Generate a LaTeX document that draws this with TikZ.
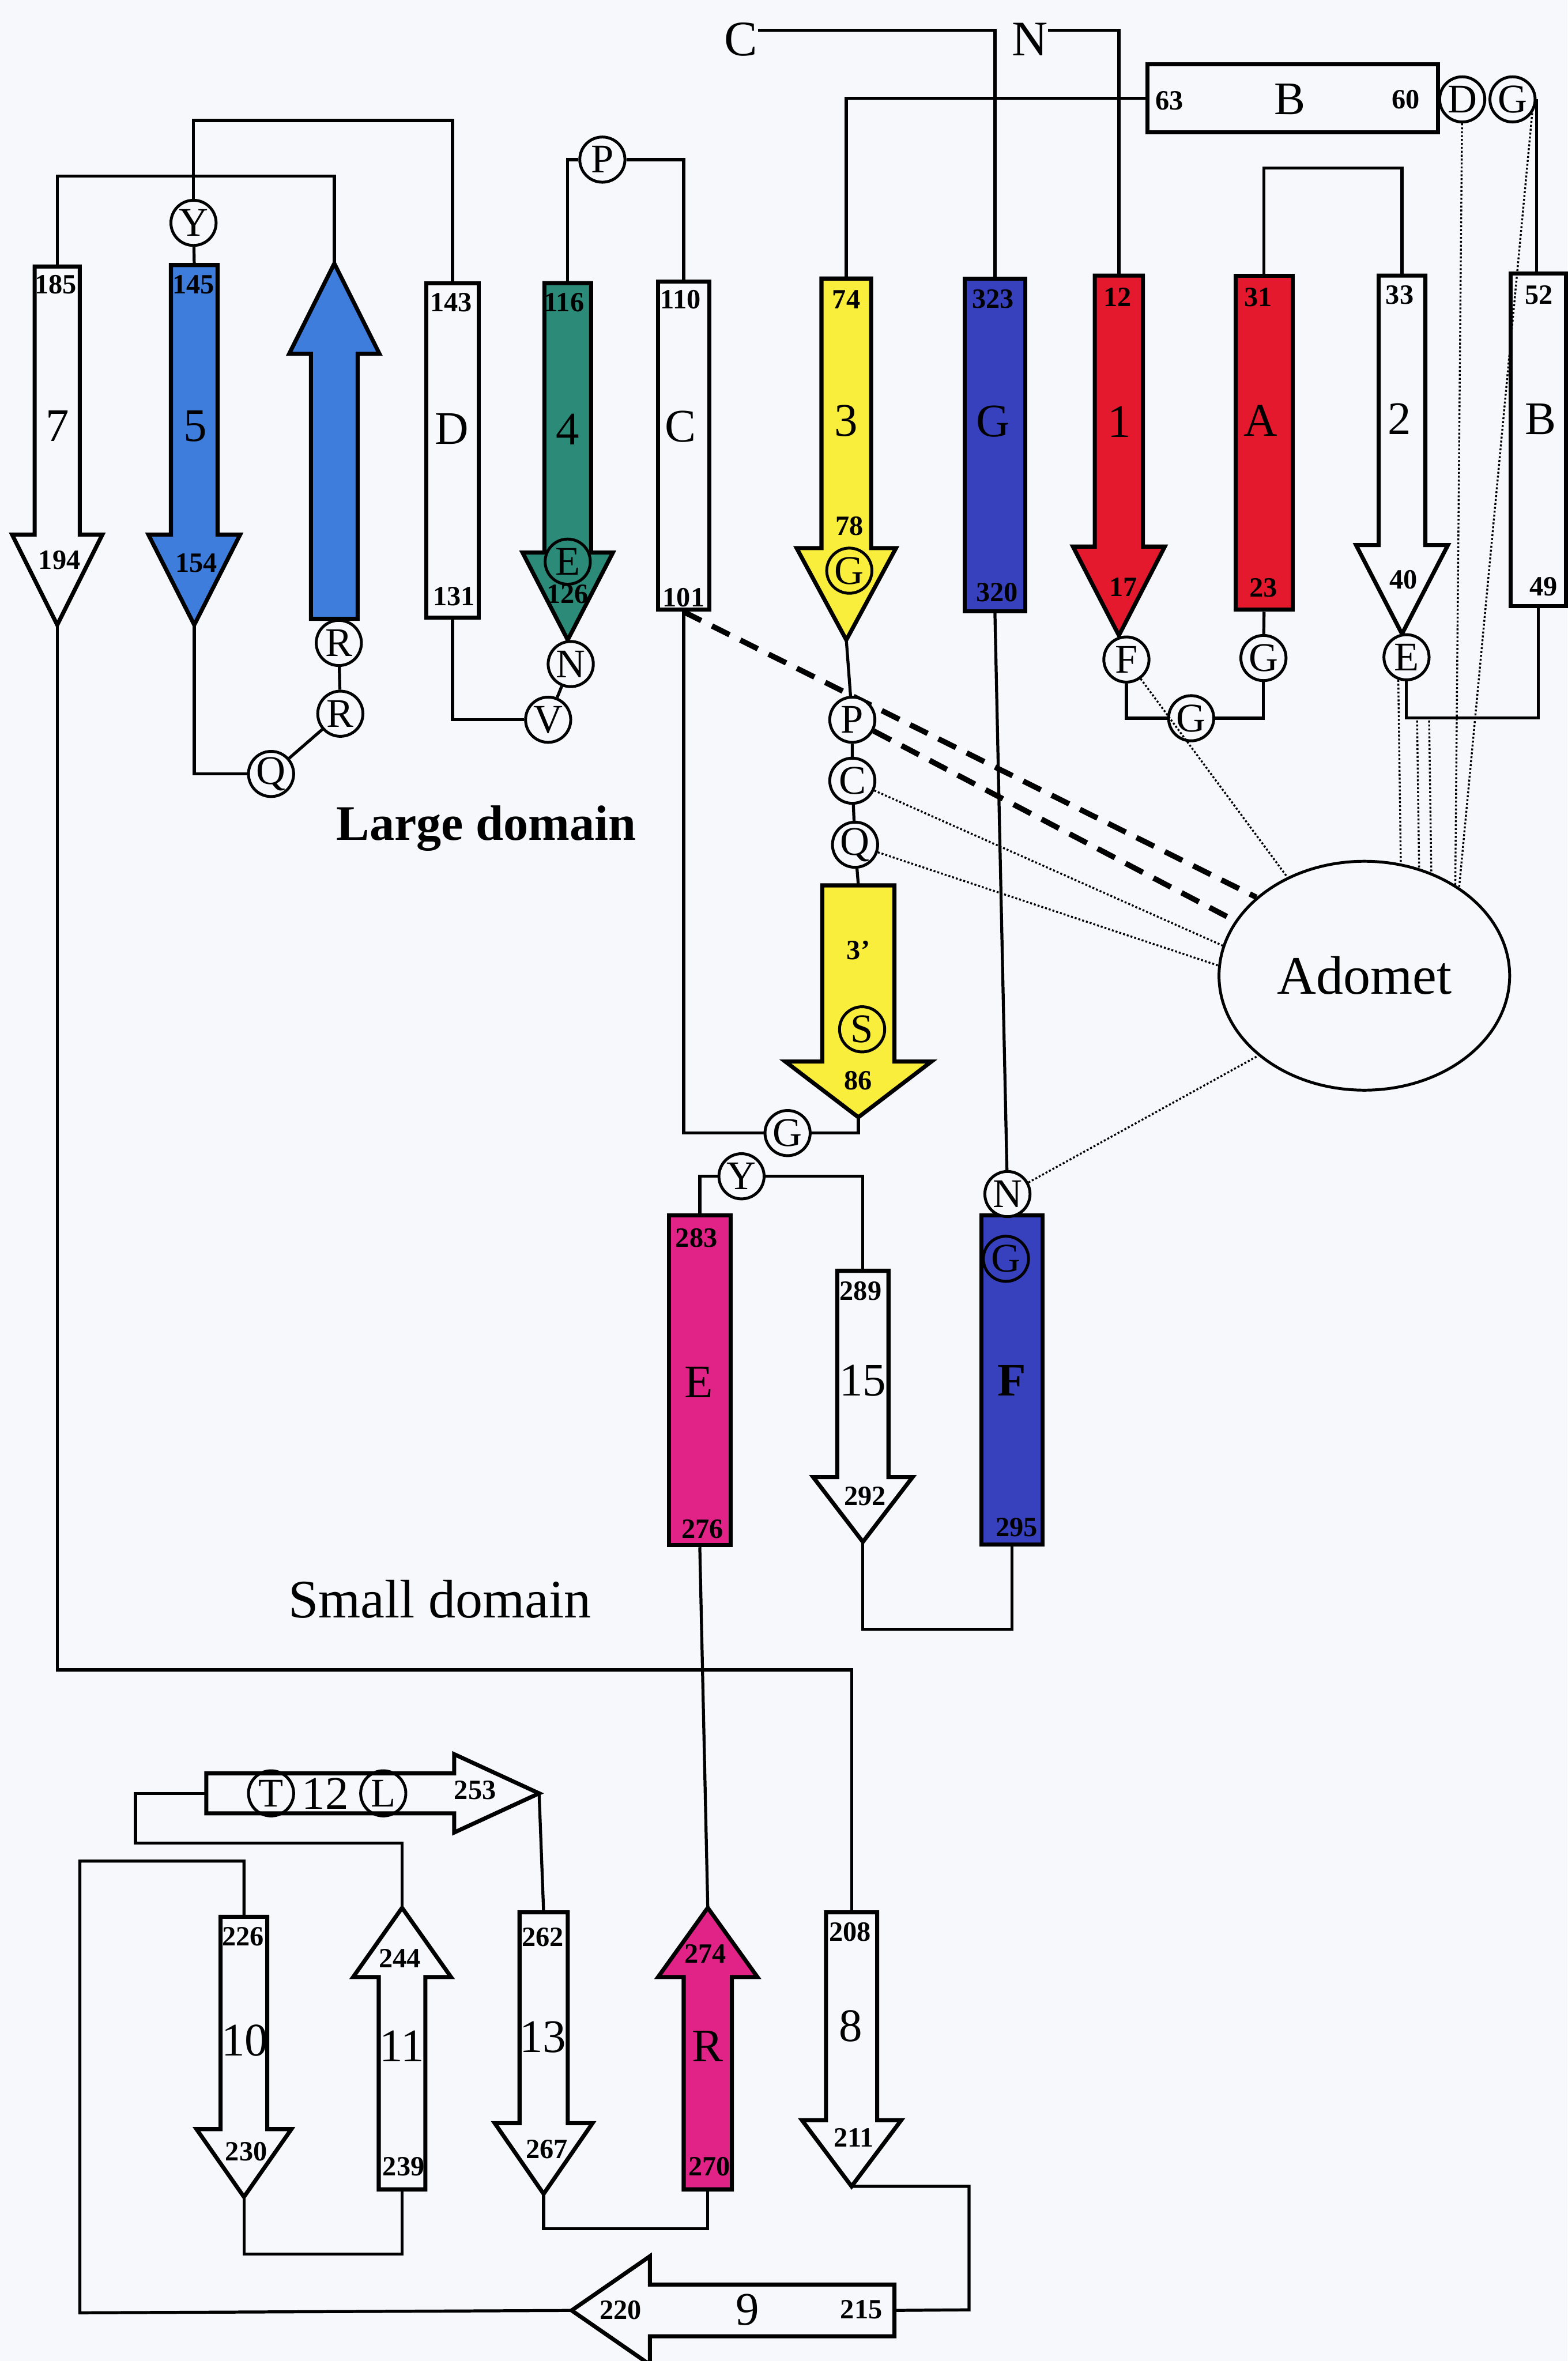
\documentclass[tikz,border=0pt]{standalone}
\usepackage{fontspec}
\setmainfont{Liberation Serif}
\usepackage{tikz}
\usetikzlibrary{shapes.geometric,calc}
\definecolor{page}{HTML}{F6F8FC}
\definecolor{blueA}{HTML}{3E7DDC}
\definecolor{tealA}{HTML}{2B8A78}
\definecolor{yellowA}{HTML}{FAEE3C}
\definecolor{navyA}{HTML}{3741BE}
\definecolor{redA}{HTML}{E4192D}
\definecolor{magentaA}{HTML}{E12387}
\pgfdeclarelayer{paper}
\pgfdeclarelayer{bg}
\pgfsetlayers{paper,bg,main}
% strand arrow: name, x, half shaft, half head, base y, head y, tip y, colour
\newcommand{\strandV}[8]{%
  \draw[sheet, fill=#8] (#2-#3,#5) -- (#2+#3,#5) -- (#2+#3,#6) -- (#2+#4,#6)
    -- (#2,#7) -- (#2-#4,#6) -- (#2-#3,#6) -- cycle;
  \coordinate (#1-base) at (#2,#5);
  \coordinate (#1-tip) at (#2,#7);}
% same, lying flat: name, y, half shaft, half head, base x, head x, tip x, colour
\newcommand{\strandH}[8]{%
  \draw[sheet, fill=#8] (#5,#2-#3) -- (#5,#2+#3) -- (#6,#2+#3) -- (#6,#2+#4)
    -- (#7,#2) -- (#6,#2-#4) -- (#6,#2-#3) -- cycle;
  \coordinate (#1-base) at (#5,#2);
  \coordinate (#1-tip) at (#7,#2);}

\begin{document}
\begin{tikzpicture}[
      x=1pt, y=-1pt,
      sheet/.style={draw, line width=2.7pt, line join=miter},
      helix/.style={draw, rectangle, line width=2.7pt, inner sep=0},
      link/.style={line width=2pt},
      res/.style={circle, draw, line width=1.9pt, minimum size=30, inner sep=0,
        fill=page, font=\fontsize{27}{27}\selectfont},
      resin/.style={res, fill=none},
      num/.style={inner sep=0, font=\fontsize{18.5}{18.5}\selectfont\bfseries},
      big/.style={inner sep=0, font=\fontsize{31}{31}\selectfont},
      hbond/.style={line width=3.6pt, dash pattern=on 13pt off 8pt},
      contact/.style={line width=1.3pt, dash pattern=on 1.3pt off 1.3pt}
  ]
    \useasboundingbox (0,0) rectangle (1041,1568);
    \begin{pgfonlayer}{paper}
      \fill[page] (0,0) rectangle (1041,1568);
    \end{pgfonlayer}

    \node[helix, fill=page, minimum width=35, minimum height=222] (hD) at (300.5,299) {};
    \node[helix, fill=page, minimum width=34, minimum height=218] (hC) at (454,296) {};
    \node[helix, fill=navyA, minimum width=40, minimum height=221] (hG) at (660.7,295.5) {};
    \node[helix, fill=redA, minimum width=38, minimum height=222] (hA) at (839.4,294) {};
    \node[helix, fill=page, minimum width=37, minimum height=221] (hBv) at (1021.5,292) {};
    \node[helix, fill=page, minimum width=193, minimum height=45.4] (hB) at (858.3,65.3) {};
    \node[helix, fill=magentaA, minimum width=41, minimum height=219] (hE) at (464.7,916.7) {};
    \node[helix, fill=navyA, minimum width=40.6, minimum height=218.6] (hF) at (672,916.5) {};

    \strandV{s7}{38}{15}{30}{177}{355}{415}{page}
    \strandV{s5}{129}{15.5}{30.5}{176}{355}{415}{blueA}
    \strandV{s6}{222}{15.5}{30}{411}{235}{175}{blueA}
    \strandV{s4}{377}{15.5}{30}{188}{367}{425}{tealA}
    \strandV{s3}{562}{16.5}{33}{185}{364}{425}{yellowA}
    \strandV{s1}{743}{16}{30.5}{183}{363}{422}{redA}
    \strandV{s2}{931}{15.5}{30.5}{183}{362}{421}{page}
    \strandV{s3p}{570}{24}{48.5}{588}{705}{742}{yellowA}
    \strandV{s15}{573}{17}{33}{844}{981}{1024}{page}
    \strandV{s10}{162}{15.5}{31.5}{1273}{1414}{1459}{page}
    \strandV{s11}{267}{15.5}{32.5}{1454}{1313}{1267}{page}
    \strandV{s13}{361}{16}{32.5}{1270}{1410}{1457}{page}
    \strandV{sR}{470}{16}{33}{1454}{1313}{1267}{magentaA}
    \strandV{s8}{565.5}{17}{33}{1270}{1408}{1452}{page}
    \strandH{s12}{1191}{13.3}{26}{137}{301.6}{358}{page}
    \strandH{s9}{1534.4}{17.2}{36}{594}{431.6}{379.6}{page}

    \node[res] (cY1) at (128.5,148) {Y};
    \node[res] (cR1) at (225,427) {R};
    \node[res] (cR2) at (226,474) {R};
    \node[res] (cQ1) at (180,514) {Q};
    \node[resin] (cE1) at (377,373) {E};
    \node[res] (cN1) at (379,441) {N};
    \node[res] (cV) at (364,478) {V};
    \node[res] (cP1) at (400,106) {P};
    \node[resin] (cG3) at (564,379) {G};
    \node[res] (cF) at (748,438) {F};
    \node[res] (cG1) at (791,477) {G};
    \node[res] (cG2) at (839,437) {G};
    \node[res] (cE2) at (934,436.5) {E};
    \node[res] (cD) at (971,66) {D};
    \node[res] (cG0) at (1004.4,66) {G};
    \node[res] (cP2) at (566,478) {P};
    \node[res] (cC) at (566,518.5) {C};
    \node[res] (cQ2) at (567.8,561) {Q};
    \node[resin] (cS) at (572.5,683.6) {S};
    \node[res] (cG4) at (523,752.5) {G};
    \node[res] (cY2) at (492.4,781.2) {Y};
    \node[res] (cN2) at (669,793) {N};
    \node[resin] (cG5) at (668,836) {G};
    \node[resin] (cT) at (180,1191) {T};
    \node[resin] (cL) at (254.5,1191) {L};

    \node[ellipse, draw, line width=1.9pt, fill=page, minimum width=193, minimum height=152,
      inner sep=0, font=\fontsize{36}{36}\selectfont] (ado) at (906,648) {Adomet};
    \node[inner sep=0, font=\fontsize{33}{33}\selectfont] (cterm) at (492,26) {C};
    \node[inner sep=0, font=\fontsize{33}{33}\selectfont] (nterm) at (684,26) {N};
    \node[inner sep=0, font=\fontsize{33}{33}\selectfont\bfseries] (large) at (323,550) {Large domain};
    \node[inner sep=0, font=\fontsize{36}{36}\selectfont] (small) at (292,1062) {Small domain};

    \node[num] (n185) at (37,189) {185};
    \node[big] (l7) at (38,283) {7};
    \node[num] (n194) at (39.5,372) {194};
    \node[num] (n145) at (128.5,189) {145};
    \node[big] (l5) at (129.5,283) {5};
    \node[num] (n154) at (130.5,374) {154};
    \node[num] (n143) at (299.5,201) {143};
    \node[big] (lD) at (300,285) {D};
    \node[num] (n131) at (301.5,396) {131};
    \node[num] (n116) at (374.5,201) {116};
    \node[big] (l4) at (377,285) {4};
    \node[num] (n126) at (377,394.5) {126};
    \node[num] (n110) at (452,199) {110};
    \node[big] (lC) at (452,283.5) {C};
    \node[num] (n101) at (454,397) {101};
    \node[num] (n74) at (562,199) {74};
    \node[big] (l3) at (562,279.5) {3};
    \node[num] (n78) at (564,349.5) {78};
    \node[num] (n323) at (659.5,198.5) {323};
    \node[big] (lG) at (659.5,280) {G};
    \node[num] (n320) at (662,393.5) {320};
    \node[num] (n12) at (742,197.5) {12};
    \node[big] (l1) at (743.5,280) {1};
    \node[num] (n17) at (746,390) {17};
    \node[num] (n31) at (835.5,197.5) {31};
    \node[big] (lA) at (837,279.5) {A};
    \node[num] (n23) at (839,390.5) {23};
    \node[num] (n33) at (929.5,196) {33};
    \node[big] (l2) at (929.5,278) {2};
    \node[num] (n40) at (932,385) {40};
    \node[num] (n52) at (1022,196) {52};
    \node[big] (lBv) at (1023,278.5) {B};
    \node[num] (n49) at (1025,389.5) {49};
    \node[num] (n63) at (776.5,67) {63};
    \node[big] (lBh) at (856.5,66) {B};
    \node[num] (n60) at (933.5,66) {60};
    \node[num] (n3p) at (570,631) {3’};
    \node[num] (n86) at (570,717.5) {86};
    \node[num] (n283) at (462.5,822) {283};
    \node[big] (lE) at (464,918) {E};
    \node[num] (n276) at (466.5,1015.5) {276};
    \node[num] (n289) at (571.5,857.5) {289};
    \node[big] (l15) at (573,917) {15};
    \node[num] (n292) at (574.5,993.5) {292};
    \node[big, font=\fontsize{31}{31}\selectfont\bfseries] (lF) at (672,917) {F};
    \node[num] (n295) at (675,1014.5) {295};
    \node[big] (l12) at (216,1191) {12};
    \node[num] (n253) at (315.5,1189) {253};
    \node[num] (n226) at (161.5,1286) {226};
    \node[big] (l10) at (162.5,1355) {10};
    \node[num] (n230) at (163.5,1429) {230};
    \node[num] (n244) at (265.5,1300.5) {244};
    \node[big] (l11) at (267,1359) {11};
    \node[num] (n239) at (268,1439) {239};
    \node[num] (n262) at (360.5,1286.5) {262};
    \node[big] (l13) at (360.5,1353) {13};
    \node[num] (n267) at (363,1427.5) {267};
    \node[num] (n274) at (468.5,1297.5) {274};
    \node[big] (lR) at (470,1359) {R};
    \node[num] (n270) at (471,1439) {270};
    \node[num] (n208) at (564.5,1283) {208};
    \node[big] (l8) at (565,1345.5) {8};
    \node[num] (n211) at (567,1419.5) {211};
    \node[num] (n220) at (412,1534) {220};
    \node[big] (l9) at (496.5,1534) {9};
    \node[num] (n215) at (572,1534) {215};

    \coordinate (lp1) at (941,476);
    \coordinate (lp2) at (949,476);

    \draw[link] (s7-base) -- ++(0,-60) -| (s6-tip);
    \draw[link] (s5-base) -- (cY1);
    \draw[link] (cY1) -- ++(0,-68) -| (hD.north);
    \draw[link] (s5-tip) |- (cQ1);
    \draw[link] (cQ1) -- (cR2) -- (cR1) -- (s6-base);
    \draw[link] (hD.south) |- (cV);
    \draw[link] (cV) -- (cN1) -- (s4-tip);
    \draw[link] (s4-base) |- (cP1);
    \draw[link] (cP1) -| (hC.north);
    \draw[link] (hC.south) |- (cG4);
    \draw[link] (cG4) -| (s3p-tip);
    \draw[link] (s3-tip) -- (cP2) -- (cC) -- (cQ2) -- (s3p-base);
    \draw[link] ([yshift=6pt]cterm.east) -| (hG.north);
    \draw[link] ([yshift=6pt]nterm.east) -| (s1-base);
    \draw[link] (hB.west) -| (s3-base);
    \draw[link] (cG0.east) -- (cG0.east |- hBv.north);
    \draw[link] (hA.north) -- ++(0,-70) -| (s2-base);
    \draw[link] (s1-tip) -- (cF);
    \draw[link] (cF) |- (cG1);
    \draw[link] (cG1) -| (cG2);
    \draw[link] (cG2) -- (hA.south);
    \draw[link] (s2-tip) -- (cE2);
    \draw[link] (hBv.south) -- ++(0,73) -| (cE2);
    \draw[link] (s7-tip) -- ++(0,694) -| (s8-base);
    \draw[link] (hE.north) |- (cY2);
    \draw[link] (cY2) -| (s15-base);
    \draw[link] (s15-tip) -- ++(0,58) -| (hF.south);
    \draw[link] (hG.south) -- (cN2);
    \draw[link] (hE.south) -- (sR-tip);
    \draw[link] (s12-base) -| ++(-47,33) -| (s11-tip);
    \draw[link] (s12-tip) -- (s13-base);
    \draw[link] (s10-base) -- ++(0,-37) -| ++(-109,300) -- (s9-tip);
    \draw[link] (s10-tip) -- ++(0,38) -| (s11-base);
    \draw[link] (s13-tip) -- ++(0,23) -| (sR-base);
    \draw[link] (s8-tip) -| ++(78,82) -- (s9-base);

    \begin{pgfonlayer}{bg}
      \draw[hbond] (hC.south) -- (ado.144);
      \draw[hbond] (cP2) -- (ado.157);
    \end{pgfonlayer}

    \draw[contact] (cC) -- (ado.168);
    \draw[contact] (cQ2) -- (ado.176);
    \draw[contact] (cF) -- (ado.128);
    \draw[contact] (cN2) -- (ado.217);
    \draw[contact] (cE2.250) -- (ado.72);
    \draw[contact] (lp1) -- (ado.63);
    \draw[contact] (lp2) -- (ado.57);
    \draw[contact] (cD) -- (ado.45);
    \draw[contact] (cG0.-35) -- (ado.43);
  \end{tikzpicture}
\end{document}
